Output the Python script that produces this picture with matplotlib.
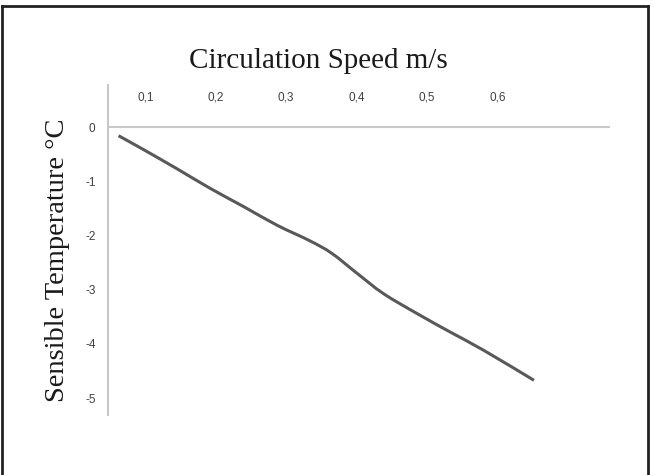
import matplotlib.pyplot as plt
from matplotlib.lines import Line2D
from matplotlib.path import Path
from matplotlib.patches import PathPatch

# circulation speed (m/s) and sensible temperature (deg C)
speed = [0.062, 0.098, 0.145, 0.192, 0.240, 0.287, 0.334, 0.365, 0.401, 0.438, 0.486, 0.533, 0.581, 0.652]
temp = [-0.16, -0.42, -0.77, -1.13, -1.47, -1.81, -2.10, -2.33, -2.70, -3.07, -3.44, -3.78, -4.12, -4.67]

x_ticks = [0.1, 0.2, 0.3, 0.4, 0.5, 0.6]
x_labels = ['0,1', '0,2', '0,3', '0,4', '0,5', '0,6']
y_ticks = [0, -1, -2, -3, -4, -5]


def smooth_path(xs, ys):
    # Excel-style smoothed line: Catmull-Rom segments drawn as cubic beziers
    pts = list(zip(xs, ys))
    verts = [pts[0]]
    codes = [Path.MOVETO]
    for i in range(len(pts) - 1):
        p0 = pts[i - 1] if i > 0 else pts[i]
        p1 = pts[i]
        p2 = pts[i + 1]
        p3 = pts[i + 2] if i + 2 < len(pts) else pts[i + 1]
        c1 = (p1[0] + (p2[0] - p0[0]) / 6, p1[1] + (p2[1] - p0[1]) / 6)
        c2 = (p2[0] - (p3[0] - p1[0]) / 6, p2[1] - (p3[1] - p1[1]) / 6)
        verts += [c1, c2, p2]
        codes += [Path.CURVE4] * 3
    return Path(verts, codes)


fig = plt.figure(figsize=(6.54, 4.75), dpi=100)
ax = fig.add_axes([108 / 654, 60 / 475, 502 / 654, 330 / 475])

ax.add_patch(PathPatch(smooth_path(speed, temp), facecolor='none', edgecolor='#595959',
                       linewidth=2.2, capstyle='butt', zorder=3))
ax.axhline(0, color='#c8c8c8', linewidth=1.5)

ax.set_xlim(0.047, 0.76)
ax.set_ylim(-5.31, 0.775)

for s in ['top', 'right', 'bottom']:
    ax.spines[s].set_visible(False)
ax.spines['left'].set_color('#c8c8c8')
ax.spines['left'].set_linewidth(1.5)

ax.set_xticks(x_ticks)
ax.set_xticklabels(x_labels)
ax.tick_params(axis='x', top=True, labeltop=True, bottom=False, labelbottom=False,
               length=0, pad=-13.5, labelsize=8.5, labelcolor='#404040')
ax.set_yticks(y_ticks)
ax.set_yticklabels([str(v) for v in y_ticks])
ax.tick_params(axis='y', length=0, pad=9, labelsize=8.5, labelcolor='#404040')
for lbl in ax.get_xticklabels() + ax.get_yticklabels():
    lbl.set_family('Liberation Sans')

fig.text(318 / 654, 1 - 61 / 475, 'Circulation Speed m/s', ha='center', va='center',
         family='Liberation Serif', fontsize=21, color='#1a1a1a')
fig.text(57 / 654, 1 - 260 / 475, 'Sensible Temperature °C', ha='center', va='center',
         rotation=90, family='Liberation Serif', fontsize=20.5, color='#1a1a1a')

# outer frame around the chart
fig.add_artist(Line2D([2 / 654, 2 / 654], [0, 1 - 6 / 475], transform=fig.transFigure,
                      color='#222222', linewidth=2))
fig.add_artist(Line2D([2 / 654, 648 / 654], [1 - 6 / 475, 1 - 6 / 475], transform=fig.transFigure,
                      color='#222222', linewidth=2))
fig.add_artist(Line2D([648 / 654, 648 / 654], [0, 1 - 6 / 475], transform=fig.transFigure,
                      color='#222222', linewidth=2))

fig.savefig('out.png', dpi=100)
